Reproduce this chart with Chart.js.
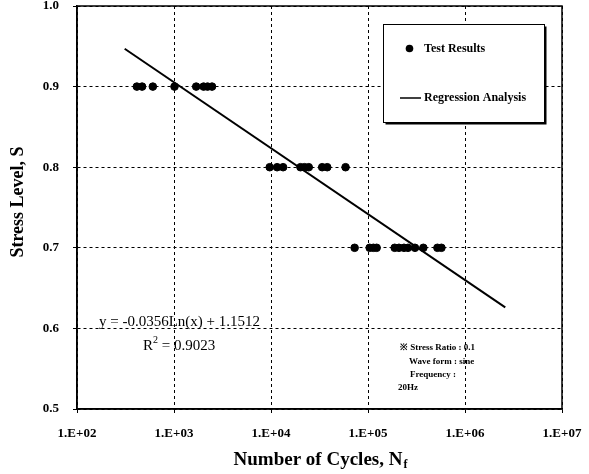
<!DOCTYPE html>
<html><head><meta charset="utf-8">
<script src="https://cdn.jsdelivr.net/npm/chart.js@4/dist/chart.umd.min.js"></script>
<style>html,body{margin:0;padding:0;background:#fff}</style>
</head><body>
<canvas id="c" width="589" height="474"></canvas>
<script>
// ---- data ----
const cycles09 = [414, 469, 605, 1012, 1694, 2018, 2218, 2466];
const cycles08 = [9700, 11560, 13330, 20130, 22150, 24500, 33700, 38000, 58700];
const cycles07 = [72800, 104000, 113600, 122800, 188400, 208600, 234900, 258400, 305000, 372000, 519600, 571500];
const stressLevels = [0.9, 0.8, 0.7];
const regCycles = [310, 2600000];
const regStress = [0.947, 0.626];
const xTickValues = [1e2, 1e3, 1e4, 1e5, 1e6, 1e7];
const yTickValues = [0.5, 0.6, 0.7, 0.8, 0.9, 1.0];
const seriesNames = ['Test Results', 'Regression Analysis'];
const equationText = 'y = -0.0356Ln(x) + 1.1512';
const r2Parts = ['R', '2', ' = 0.9023'];
const noteLines = ['\u203B Stress Ratio : 0.1', 'Wave form : sine', 'Frequency :', '20Hz'];
const xTitleParts = ['Number of Cycles, N', 'f'];
const yTitle = 'Stress Level, S';

const SERIF = '"Liberation Serif", "Times New Roman", serif';

const testPoints = [];
[cycles09, cycles08, cycles07].forEach((arr, i) => arr.forEach(c => testPoints.push({x: c, y: stressLevels[i]})));
const regPoints = regCycles.map((c, i) => ({x: c, y: regStress[i]}));

const decor = {
  id: 'decor',
  afterDraw(chart) {
    const ctx = chart.ctx;
    const a = chart.chartArea;
    ctx.save();
    // frame
    ctx.strokeStyle = '#000';
    ctx.lineWidth = 1.5;
    ctx.setLineDash([]);
    ctx.strokeRect(a.left, a.top, a.right - a.left, a.bottom - a.top);

    // legend box with shadow
    const lx = 383, ly = 24, lw = 161, lh = 98;
    ctx.fillStyle = '#000';
    ctx.fillRect(lx + 2.5, ly + 2.5, lw, lh);
    ctx.fillStyle = '#fff';
    ctx.fillRect(lx, ly, lw, lh);
    ctx.lineWidth = 1;
    ctx.strokeStyle = '#000';
    ctx.strokeRect(lx + 0.5, ly + 0.5, lw, lh);
    ctx.fillStyle = '#000';
    ctx.beginPath();
    ctx.arc(409.5, 48.5, 3.8, 0, Math.PI * 2);
    ctx.fill();
    ctx.lineWidth = 1.5;
    ctx.beginPath();
    ctx.moveTo(400, 98);
    ctx.lineTo(421, 98);
    ctx.stroke();
    ctx.font = 'bold 12px ' + SERIF;
    ctx.textAlign = 'left';
    ctx.textBaseline = 'middle';
    ctx.fillText(chart.data.datasets[0].label, 424, 48.5);
    ctx.fillText(chart.data.datasets[1].label, 424, 98);

    // regression equation
    ctx.font = '15px ' + SERIF;
    ctx.fillText(equationText, 99, 322);
    let x = 143;
    ctx.fillText(r2Parts[0], x, 346);
    x += ctx.measureText(r2Parts[0]).width;
    ctx.font = '10px ' + SERIF;
    ctx.fillText(r2Parts[1], x, 340);
    x += ctx.measureText(r2Parts[1]).width;
    ctx.font = '15px ' + SERIF;
    ctx.fillText(r2Parts[2], x, 346);

    // test conditions note
    ctx.font = 'bold 9px ' + SERIF;
    ctx.fillText(noteLines[0], 400, 348);
    ctx.fillText(noteLines[1], 409, 362);
    ctx.fillText(noteLines[2], 410, 375);
    ctx.fillText(noteLines[3], 398, 388);

    // x axis title with subscript
    ctx.font = 'bold 19px ' + SERIF;
    const w1 = ctx.measureText(xTitleParts[0]).width;
    ctx.font = 'bold 12px ' + SERIF;
    const w2 = ctx.measureText(xTitleParts[1]).width;
    const cx = 320;
    const tx = cx - (w1 + w2) / 2;
    ctx.font = 'bold 19px ' + SERIF;
    ctx.fillText(xTitleParts[0], tx, 460);
    ctx.font = 'bold 12px ' + SERIF;
    ctx.fillText(xTitleParts[1], tx + w1 + 1, 465);

    // y axis title
    ctx.translate(18, 202);
    ctx.rotate(-Math.PI / 2);
    ctx.textAlign = 'center';
    ctx.font = 'bold 18px ' + SERIF;
    ctx.fillText(yTitle, 0, 0);
    ctx.restore();
  }
};

new Chart(document.getElementById('c'), {
  type: 'scatter',
  data: {
    datasets: [
      {
        label: seriesNames[0],
        data: testPoints,
        backgroundColor: '#000',
        borderColor: '#000',
        pointRadius: 3.8,
        pointHoverRadius: 3.8,
        showLine: false
      },
      {
        label: seriesNames[1],
        data: regPoints,
        borderColor: '#000',
        backgroundColor: '#000',
        borderWidth: 2,
        pointRadius: 0,
        showLine: true,
        fill: false
      }
    ]
  },
  options: {
    responsive: false,
    animation: false,
    devicePixelRatio: 1,
    layout: {padding: {left: 0, top: 6, right: 27, bottom: 0}},
    plugins: {
      legend: {display: false},
      tooltip: {enabled: false}
    },
    scales: {
      x: {
        type: 'logarithmic',
        min: xTickValues[0],
        max: xTickValues[xTickValues.length - 1],
        afterBuildTicks: s => { s.ticks = xTickValues.map(v => ({value: v, major: true})); },
        afterFit: s => { s.height = 65; s.paddingLeft = 0; s.paddingRight = 0; },
        ticks: {
          autoSkip: false,
          maxRotation: 0,
          padding: 13,
          color: '#000',
          font: {family: SERIF, size: 13, weight: 'bold'},
          callback: v => '1.E+' + String(Math.round(Math.log10(v))).padStart(2, '0')
        },
        grid: {color: '#000', lineWidth: 1, tickLength: 4, tickColor: '#000', tickWidth: 1},
        border: {display: true, color: '#000', width: 1.5, dash: [3, 3]}
      },
      y: {
        min: yTickValues[0],
        max: yTickValues[yTickValues.length - 1],
        afterBuildTicks: s => { s.ticks = yTickValues.map(v => ({value: v})); },
        afterFit: s => { s.width = 77; s.paddingTop = 0; s.paddingBottom = 0; },
        ticks: {
          padding: 14,
          color: '#000',
          font: {family: SERIF, size: 13, weight: 'bold'},
          callback: v => Number(v).toFixed(1)
        },
        grid: {color: '#000', lineWidth: 1, tickLength: 4, tickColor: '#000', tickWidth: 1},
        border: {display: true, color: '#000', width: 1.5, dash: [3, 3]}
      }
    }
  },
  plugins: [decor]
});
</script>
</body></html>
